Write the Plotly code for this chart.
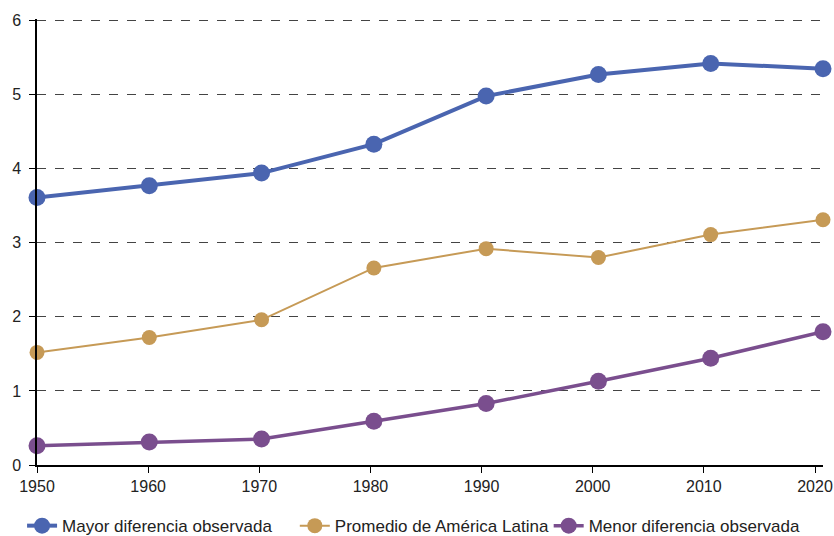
import plotly.graph_objects as go

years = [1950, 1960, 1970, 1980, 1990, 2000, 2010, 2020]
mayor = [3.61, 3.77, 3.94, 4.33, 4.98, 5.27, 5.42, 5.35]
promedio = [1.52, 1.72, 1.96, 2.66, 2.92, 2.80, 3.11, 3.31]
menor = [0.26, 0.31, 0.35, 0.59, 0.83, 1.13, 1.44, 1.80]

series = [
    ("Mayor diferencia observada", mayor, "#4a65b0", 4, 17, "legend", -0.019),
    ("Promedio de América Latina", promedio, "#c69a56", 2, 15, "legend2", 0.328),
    ("Menor diferencia observada", menor, "#7a4e8e", 3.5, 17, "legend3", 0.651),
]

fig = go.Figure()
legends = {}
for name, vals, color, lw, ms, leg, lx in series:
    fig.add_trace(go.Scatter(
        x=years, y=vals, name=name, mode="lines+markers",
        line=dict(color=color, width=lw),
        marker=dict(color=color, size=ms),
        cliponaxis=False, legend=leg,
    ))
    legends[leg] = dict(orientation="h", x=lx, xanchor="left", y=-0.137, yanchor="middle",
                        font=dict(size=17, color="#222"), itemwidth=30,
                        bgcolor="rgba(0,0,0,0)")

# invisible trace so the tick axis gets drawn (ticks in the original sit slightly off the points)
fig.add_trace(go.Scatter(x=[years[0]], y=[0], xaxis="x2", mode="markers",
                         marker=dict(opacity=0), showlegend=False, hoverinfo="skip"))

fig.update_layout(
    width=834, height=536,
    margin=dict(l=37, r=11, t=19, b=71, autoexpand=False),
    plot_bgcolor="white", paper_bgcolor="white",
    font=dict(family="Liberation Sans, Arial, sans-serif", size=15, color="#222"),
    showlegend=True,
    xaxis=dict(range=[1950, 2020], showticklabels=False, showgrid=False,
               showline=False, zeroline=False, automargin=False),
    xaxis2=dict(overlaying="x", anchor="y", side="bottom",
                range=[1950, 2020.72], tickvals=years, showgrid=False, automargin=False,
                showline=True, linecolor="black", linewidth=1.5,
                ticks="outside", ticklen=6, tickcolor="black", zeroline=False,
                ticklabeloverflow="allow", tickfont=dict(size=16, color="#222")),
    **legends,
)
fig.update_yaxes(
    range=[0, 6.02], dtick=1, showgrid=True, gridcolor="#444", griddash="dash", gridwidth=1,
    showline=True, linecolor="black", linewidth=1.5, automargin=False,
    ticks="outside", ticklen=6, tickcolor="black", zeroline=False,
    ticklabelstandoff=5, tickfont=dict(size=16, color="#222"),
)

# drop the default body margin so the figure fills the window exactly
fig.write_html("out.html", config={"displayModeBar": False},
               post_script="document.body.style.margin='0';document.body.style.overflow='hidden';")
